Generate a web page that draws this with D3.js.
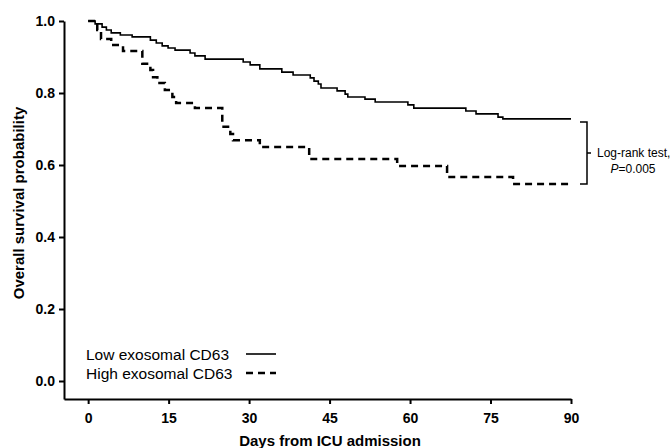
<!DOCTYPE html>
<html>
<head>
<meta charset="utf-8">
<style>
body { margin: 0; background: #fff; }
svg { font-family: "Liberation Sans", Arial, sans-serif; }
.axis .domain { stroke-width: 2; }
.axis line { stroke-width: 2; }
.axis text { font-size: 14px; font-weight: bold; fill: #000; }
</style>
</head>
<body>
<svg width="671" height="448"></svg>
<script src="https://d3js.org/d3.v7.min.js"></script>
<script>
// Kaplan-Meier steps (day of event, survival after it)
var lowDays  = [0, 1.3, 2.6, 3.4, 4.3, 6.0, 8.2, 11.6, 12.7, 13.8, 14.9, 16.2, 19.0, 19.9, 21.8,
                28.9, 30.2, 32.0, 36.1, 38.2, 41.4, 42.1, 42.9, 43.4, 46.4, 47.9, 48.4, 51.6, 53.5,
                59.6, 60.7, 70.4, 72.3, 76.4, 77.3, 90];
var lowSurv  = [1.0, 0.992, 0.983, 0.975, 0.967, 0.961, 0.956, 0.947, 0.939, 0.931, 0.925, 0.919, 0.911, 0.903, 0.894,
                0.886, 0.878, 0.867, 0.858, 0.850, 0.842, 0.833, 0.825, 0.814, 0.806, 0.797, 0.789, 0.783, 0.775,
                0.767, 0.758, 0.750, 0.742, 0.733, 0.728, 0.728];

var highDays = [0, 1.7, 2.4, 4.3, 6.5, 10.1, 11.6, 12.1, 12.9, 14.3, 15.7, 16.4, 19.9, 25.0, 26.5, 27.0,
                32.0, 41.2, 57.6, 66.9, 79.2, 90];
var highSurv = [1.0, 0.975, 0.95, 0.933, 0.917, 0.881, 0.864, 0.844, 0.828, 0.808, 0.789, 0.772, 0.758, 0.706, 0.686, 0.669,
                0.650, 0.617, 0.597, 0.567, 0.547, 0.547];

var xTicks = [0, 15, 30, 45, 60, 75, 90];
var yTicks = [0.0, 0.2, 0.4, 0.6, 0.8, 1.0];
var groups = ["Low exosomal CD63", "High exosomal CD63"];

var svg = d3.select("svg");

var x = d3.scaleLinear().domain([-4.5, 90]).range([64, 571]);
var y = d3.scaleLinear().domain([-0.05, 1.0]).range([399, 21]);

svg.append("g")
    .attr("class", "axis")
    .attr("transform", "translate(0,399)")
    .call(d3.axisBottom(x).tickValues(xTicks).tickSize(5).tickSizeOuter(0).tickPadding(6))
    .selectAll("text").attr("dy", "0.9em");

svg.append("g")
    .attr("class", "axis")
    .attr("transform", "translate(64,0)")
    .call(d3.axisLeft(y).tickValues(yTicks).tickSize(5).tickSizeOuter(0).tickPadding(4).tickFormat(d3.format(".1f")));

svg.append("text")
    .attr("x", 330)
    .attr("y", 446)
    .attr("text-anchor", "middle")
    .attr("font-size", 15)
    .attr("font-weight", "bold")
    .text("Days from ICU admission");

svg.append("text")
    .attr("transform", "translate(24,203) rotate(-90)")
    .attr("text-anchor", "middle")
    .attr("font-size", 15)
    .attr("font-weight", "bold")
    .text("Overall survival probability");

var line = d3.line()
    .x(function(d) { return x(d[0]); })
    .y(function(d) { return y(d[1]); })
    .curve(d3.curveStepAfter);

svg.append("path")
    .datum(d3.zip(lowDays, lowSurv))
    .attr("fill", "none")
    .attr("stroke", "#000")
    .attr("stroke-width", 1.6)
    .attr("d", line);

svg.append("path")
    .datum(d3.zip(highDays, highSurv))
    .attr("fill", "none")
    .attr("stroke", "#000")
    .attr("stroke-width", 2.5)
    .attr("stroke-dasharray", "7,5")
    .attr("d", line);

// legend
var legend = svg.append("g")
  .selectAll("g")
  .data(groups)
  .enter().append("g")
    .attr("transform", function(d, i) { return "translate(0," + (i * 19) + ")"; });

legend.append("text")
    .attr("x", 86)
    .attr("y", 360)
    .attr("font-size", 15.5)
    .text(function(d) { return d; });

legend.append("line")
    .attr("x1", 246).attr("x2", 276)
    .attr("y1", 354).attr("y2", 354)
    .attr("stroke", "#000")
    .attr("stroke-width", function(d, i) { return i ? 2.5 : 1.6; })
    .attr("stroke-dasharray", function(d, i) { return i ? "7,5" : null; });

// log-rank bracket
svg.append("path")
    .attr("d", "M580,122H587V184H580M587,153H591")
    .attr("fill", "none")
    .attr("stroke", "#000")
    .attr("stroke-width", 1.5);

svg.append("text")
    .attr("x", 597)
    .attr("y", 157)
    .attr("font-size", 12)
    .text("Log-rank test,");

var pt = svg.append("text")
    .attr("x", 633)
    .attr("y", 173)
    .attr("font-size", 12)
    .attr("text-anchor", "middle");
pt.append("tspan").attr("font-style", "italic").text("P");
pt.append("tspan").text("=0.005");
</script>
</body>
</html>
